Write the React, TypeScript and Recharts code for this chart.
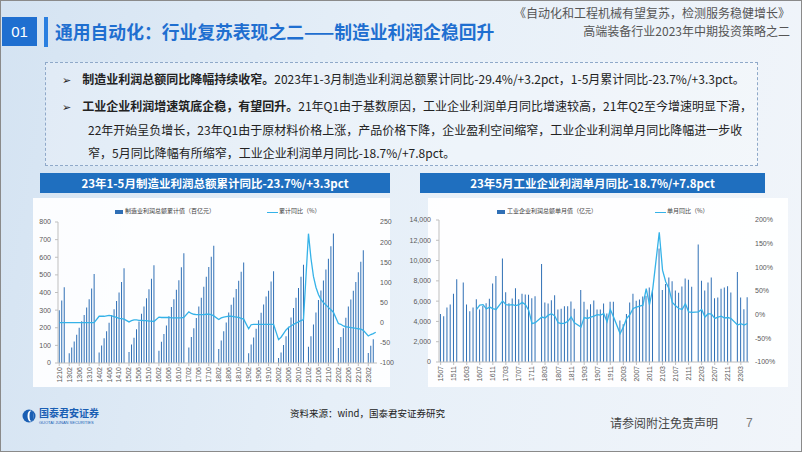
import React from 'react';
import { ComposedChart, Bar, Line, XAxis, YAxis } from 'recharts';

const CJK = '"Noto Sans CJK SC", "Noto Sans", sans-serif';
const NUM = '"Liberation Sans Narrow", "Liberation Sans", Arial, sans-serif';

// month labels like 1210, 1211 ... (January kept as an empty slot)
function monthLabels(yy: number, mm: number, count: number): string[] {
  const out: string[] = [];
  for (let i = 0; i < count; i++) {
    out.push(String(yy).padStart(2, '0') + String(mm).padStart(2, '0'));
    mm += 1;
    if (mm > 12) {
      mm = 1;
      yy += 1;
    }
  }
  return out;
}

// ---- left chart: 制造业利润总额累计值 (百亿元) / 累计同比 (%) ----
const mfgMonths = monthLabels(12, 10, 128);
const mfgCumValue: (number | null)[] = [
  300, 355, 430,
  null, 55, 88, 122, 160, 200, 237, 272, 315, 362, 422, 505,
  null, 60, 100, 140, 180, 228, 272, 305, 352, 400, 460, 537,
  null, 62, 105, 143, 192, 235, 280, 320, 368, 418, 478, 555,
  null, 70, 120, 165, 213, 265, 318, 362, 415, 470, 543, 622,
  null, 88, 147, 197, 255, 320, 370, 432, 490, 545, 603, 665,
  null, 80, 128, 180, 230, 287, 330, 372, 420, 467, 518, 570,
  null, 55, 105, 145, 195, 243, 285, 332, 377, 410, 462, 520,
  null, 28, 60, 102, 152, 205, 258, 312, 370, 425, 490, 558,
  null, 92, 152, 218, 287, 357, 412, 468, 530, 592, 662, 735,
  null, 85, 147, 197, 257, 320, 360, 410, 460, 515, 575, 640,
  null, 57, 98, 135, null,
];
const mfgCumYoy: (number | null)[] = [
  0, 0, 0,
  null, 0, 0, 0, 0, 0, 0, 0, 0, 0, 0, 0,
  null, 16, 16, 16, 17, 18, 17, 15, 13, 11, 10, 9,
  null, 2, 5, 7, 7, 6, 6, 5, 5, 4, 4, 3,
  null, 14, 13, 13, 13, 13, 12, 12, 12, 12, 12, 13,
  null, 27, 23, 21, 20, 20, 20, 20, 21, 21, 20, 17,
  null, 8, 12, 14, 15, 16, 16, 15, 14, 13, 11, 9,
  null, -15, -5, -4, -4, -4, -4, -4, -4, -4, -4, -4,
  null, -42, -36, -27, -18, -12, -8, -4, -1, 2, 5, 8,
  null, 221, 160, 115, 88, 70, 58, 50, 44, 38, 32, 26,
  null, -2, -4, -8, -10, -11, -12, -13, -14, -15, -16, -19,
  null, -33, -29.4, -27, -23.7,
];
const mfgLeftTicks = [0, 100, 200, 300, 400, 500, 600, 700, 800];
const mfgRightTicks = [-100, -50, 0, 50, 100, 150, 200, 250];

// ---- right chart: 工业企业利润总额单月值 (亿元) / 单月同比 (%) ----
const indMonths = monthLabels(15, 7, 95);
const indMonthValue: (number | null)[] = [
  4740, 4510, 5370, 5670, 6720, 8170,
  null, 7840, 5670, 5010, 5370, 6190, 5170, 5530, 5800, 6230, 7740, 8470,
  null, 10210, 6880, 5800, 6260, 7280, 6190, 6720, 6650, 6620, 6290, 6490,
  null, 9650, 5860, 5760, 6090, 6590, 5170, 5240, 5500, 5500, 5960, 5240,
  null, 7100, 5930, 5170, 5700, 6060, 5170, 5170, 5760, 4780, 5930, 5930,
  null, 4080, 3720, 4740, 5860, 6720, 6030, 6160, 6460, 6540, 7340, 7050,
  null, 11200, 7110, 7680, 8330, 7970, 7050, 6820, 7440, 8235, 8100, 7410,
  null, 11580, 8000, 7050, 7840, 8330, 6290, 6360, 7210, 7340, 7480, 6850,
  null, 8870, 6360, 5200, 6390,
];
const indMonthYoy: (number | null)[] = [
  null, null, null, null, null, null,
  null, null, null, null, null, 11, 20, 21, 12, 16, 13, 11,
  null, 29, 21, 20, 21, 19, 21, 26, 21, 9, -19, -17,
  null, -5, -7, -1, 2, -3, -17, -19, -18, -14, -5, -17,
  null, -26, -6, -8, -5, -3, 0, -1, 2, -15, 11, -5,
  null, -40, -26, -8, 0, 13, 16, 18, 20, 55, 21, 54,
  null, 174, 94, 69, 55, 26, 19, 13, 11, 23, 6, 5,
  null, 6, 11, -5, 2, 1, -8, -5, -3, -7, -6, -8,
  null, -22, -19, -22, -18.7,
];
const indLeftTicks = [0, 2000, 4000, 6000, 8000, 10000, 12000, 14000];
const indRightTicks = [-100, -50, 0, 50, 100, 150, 200];

const mfgData = mfgMonths.map((m, i) => ({ m, v: mfgCumValue[i], r: mfgCumYoy[i] }));
const indData = indMonths.map((m, i) => ({ m, v: indMonthValue[i], r: indMonthYoy[i] }));

const BAR = '#2f6fb5';
const LINE = '#35b2e8';
const AXIS = '#bfbfbf';
const TICK = { fontSize: 7, fill: '#595959', fontFamily: NUM };

const RotTick = (props: any) => {
  const { x, y, payload } = props;
  return (
    <text
      x={x}
      y={y}
      transform={`rotate(-90 ${x} ${y})`}
      textAnchor="end"
      dy="0.35em"
      fontSize={7}
      fill="#595959"
      fontFamily={NUM}
    >
      {payload.value}
    </text>
  );
};

const LegendRow = ({ left, top, barX, barText, lineX, lineText }: any) => (
  <div style={{ position: 'absolute', left, top, fontFamily: CJK, fontSize: 6, color: '#404040', whiteSpace: 'nowrap' }}>
    <div style={{ position: 'absolute', left: barX, top: 2, width: 8, height: 4, background: BAR }} />
    <div style={{ position: 'absolute', left: barX + 10, top: -2, lineHeight: '10px' }}>{barText}</div>
    <div style={{ position: 'absolute', left: lineX, top: 3.5, width: 11, height: 1.2, background: LINE }} />
    <div style={{ position: 'absolute', left: lineX + 12, top: -2, lineHeight: '10px' }}>{lineText}</div>
  </div>
);

const TitleBar = ({ left, width, text }: any) => (
  <div
    style={{
      position: 'absolute', left, top: 173, width, height: 20, background: '#1f6fbf',
      color: '#fff', fontFamily: CJK, fontWeight: 700, fontSize: 11.5, lineHeight: '20px', textAlign: 'center',
      whiteSpace: 'nowrap',
    }}
  >
    {text}
  </div>
);

export default function App() {
  return (
    <div
      style={{
        position: 'absolute', left: 0, top: 0, width: 802, height: 452, overflow: 'hidden',
        background: 'linear-gradient(100deg, #d4e3f2 0%, #e6eff8 45%, #f1f5fa 100%)',
        boxShadow: 'inset 0 0 0 1px #8a8a8a', fontFamily: CJK,
      }}
    >
      {/* header */}
      <div style={{ position: 'absolute', left: 2, top: 17, width: 35, height: 29, background: '#1f6fd0', color: '#fff', fontSize: 15, lineHeight: '29px', textAlign: 'center', fontFamily: NUM }}>01</div>
      <div style={{ position: 'absolute', left: 44, top: 17, width: 4, height: 30, background: '#2a7fe0' }} />
      <div style={{ position: 'absolute', left: 55, top: 19, fontSize: 17.8, fontWeight: 700, color: '#1f6fd0', whiteSpace: 'nowrap', lineHeight: '24px' }}>
        通用自动化：行业复苏表现之二——制造业利润企稳回升
      </div>
      <div style={{ position: 'absolute', right: 12, top: 4, fontSize: 12, color: '#555', whiteSpace: 'nowrap', lineHeight: '18px', textAlign: 'right' }}>
        《自动化和工程机械有望复苏，检测服务稳健增长》
      </div>
      <div style={{ position: 'absolute', right: 12, top: 22, fontSize: 12, color: '#555', whiteSpace: 'nowrap', lineHeight: '18px', textAlign: 'right' }}>
        高端装备行业2023年中期投资策略之二
      </div>

      {/* text box */}
      <div style={{ position: 'absolute', left: 45, top: 62, width: 711, height: 102, border: '1px dashed #8fa9c9', background: 'rgba(255,255,255,0.25)' }} />
      <div style={{ position: 'absolute', left: 62, top: 68, fontSize: 12, color: '#222', lineHeight: '22.5px', whiteSpace: 'nowrap' }}>
        <div>
          <span style={{ fontFamily: '"DejaVu Sans"', fontSize: 11, marginRight: 11 }}>➢</span>
          <b>制造业利润总额同比降幅持续收窄。</b>2023年1-3月制造业利润总额累计同比-29.4%/+3.2pct，1-5月累计同比-23.7%/+3.3pct。
        </div>
        <div style={{ marginTop: 2 }}>
          <span style={{ fontFamily: '"DejaVu Sans"', fontSize: 11, marginRight: 11 }}>➢</span>
          <b>工业企业利润增速筑底企稳，有望回升。</b>21年Q1由于基数原因，工业企业利润单月同比增速较高，21年Q2至今增速明显下滑，
        </div>
        <div style={{ paddingLeft: 26 }}>22年开始呈负增长，23年Q1由于原材料价格上涨，产品价格下降，企业盈利空间缩窄，工业企业利润单月同比降幅进一步收</div>
        <div style={{ paddingLeft: 26 }}>窄，5月同比降幅有所缩窄，工业企业利润单月同比-18.7%/+7.8pct。</div>
      </div>

      {/* chart titles */}
      <TitleBar left={40} width={350} text="23年1-5月制造业利润总额累计同比-23.7%/+3.3pct" />
      <TitleBar left={420} width={345} text="23年5月工业企业利润单月同比-18.7%/+7.8pct" />

      {/* panels */}
      <div style={{ position: 'absolute', left: 33, top: 198, width: 357, height: 189, background: 'rgba(255,255,255,0.92)' }} />
      <div style={{ position: 'absolute', left: 428, top: 198, width: 360, height: 189, background: 'rgba(255,255,255,0.92)' }} />

      {/* left chart */}
      <div style={{ position: 'absolute', left: 20, top: 198 }}>
        <ComposedChart width={380} height={192} data={mfgData} margin={{ top: 24, right: 0, bottom: 0, left: 0 }} barCategoryGap="30%">
          <XAxis dataKey="m" interval={3} height={27} tick={<RotTick />} tickSize={3} tickMargin={1} axisLine={{ stroke: AXIS }} tickLine={{ stroke: AXIS }} />
          <YAxis yAxisId="left" width={38} domain={[0, 800]} ticks={mfgLeftTicks} tick={TICK} tickSize={3} tickMargin={4} axisLine={{ stroke: AXIS }} tickLine={{ stroke: AXIS }} />
          <YAxis yAxisId="right" orientation="right" width={23} domain={[-100, 250]} ticks={mfgRightTicks} tick={TICK} tickSize={2} tickMargin={1} axisLine={false} tickLine={false} />
          <Bar yAxisId="left" dataKey="v" fill={BAR} isAnimationActive={false} />
          <Line yAxisId="right" dataKey="r" stroke={LINE} strokeWidth={1.3} dot={false} connectNulls isAnimationActive={false} />
        </ComposedChart>
      </div>
      <LegendRow left={0} top={208} barX={115} barText="制造业利润总额累计值（百亿元）" lineX={267} lineText="累计同比（%）" />

      {/* right chart */}
      <div style={{ position: 'absolute', left: 400, top: 198 }}>
        <ComposedChart width={400} height={192} data={indData} margin={{ top: 22, right: 0, bottom: 0, left: 0 }} barCategoryGap="28%">
          <XAxis dataKey="m" interval={3} height={28} tick={<RotTick />} tickSize={3} tickMargin={1} axisLine={{ stroke: AXIS }} tickLine={{ stroke: AXIS }} />
          <YAxis yAxisId="left" width={39} domain={[0, 14000]} ticks={indLeftTicks} tick={TICK} tickSize={3} tickMargin={5} axisLine={{ stroke: AXIS }} tickLine={{ stroke: AXIS }} tickFormatter={(v: number) => v.toLocaleString('en-US')} />
          <YAxis yAxisId="right" orientation="right" width={51} domain={[-100, 200]} ticks={indRightTicks} tick={TICK} tickSize={2} tickMargin={4} axisLine={false} tickLine={false} tickFormatter={(v: number) => `${v}%`} />
          <Bar yAxisId="left" dataKey="v" fill={BAR} isAnimationActive={false} />
          <Line yAxisId="right" dataKey="r" stroke={LINE} strokeWidth={1.3} dot={false} connectNulls isAnimationActive={false} />
        </ComposedChart>
      </div>
      <LegendRow left={0} top={208} barX={497} barText="工业企业利润总额单月值（亿元）" lineX={655} lineText="单月同比（%）" />

      {/* footer */}
      <svg style={{ position: 'absolute', left: 22, top: 409 }} width={14} height={14}>
        <circle cx={7} cy={7} r={6.5} fill="#1a5fb4" />
        <ellipse cx={8.5} cy={7} rx={3} ry={5.5} fill="#fff" />
        <ellipse cx={9.5} cy={7} rx={2} ry={5} fill="#1a5fb4" />
      </svg>
      <div style={{ position: 'absolute', left: 39, top: 407, fontSize: 10, fontWeight: 700, color: '#1a5fb4', lineHeight: '11px', whiteSpace: 'nowrap' }}>国泰君安证券</div>
      <div style={{ position: 'absolute', left: 39, top: 420, fontSize: 4, color: '#1a5fb4', lineHeight: '5px', whiteSpace: 'nowrap', fontFamily: NUM }}>GUOTAI JUNAN SECURITIES</div>
      <div style={{ position: 'absolute', left: 290, top: 406, fontSize: 9.5, color: '#222', lineHeight: '14px', whiteSpace: 'nowrap' }}>资料来源：wind，国泰君安证券研究</div>
      <div style={{ position: 'absolute', left: 610, top: 415, fontSize: 12, color: '#444', lineHeight: '16px', whiteSpace: 'nowrap' }}>请参阅附注免责声明</div>
      <div style={{ position: 'absolute', left: 746, top: 415, fontSize: 12, color: '#777', lineHeight: '16px', fontFamily: NUM }}>7</div>
    </div>
  );
}
